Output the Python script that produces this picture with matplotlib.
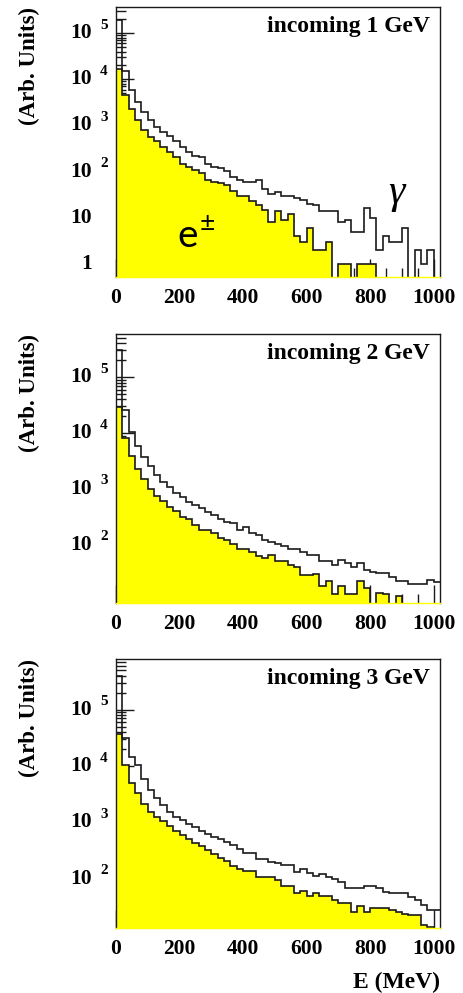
import numpy as np
import matplotlib
matplotlib.use("Agg")
import matplotlib.pyplot as plt
from matplotlib.ticker import MultipleLocator, LogLocator, NullFormatter
from matplotlib.transforms import offset_copy

# 51 bins of 20 MeV, 0 - 1020 MeV
edges = np.arange(0, 1021, 20)

gamma_1gev = [190000, 15000, 5900, 3300, 2000, 1300, 950, 740, 580, 450,
              350, 270, 220, 210, 150, 128, 118, 105, 78, 66,
              60, 60, 66, 42, 32, 37, 30, 30, 27, 24,
              20, 19, 14, 14, 14, 8, 9, 5, 5, 16,
              10, 2, 4, 3, 3, 6, 0, 2, 1, 2, 0]
ee_1gev = [17000, 4600, 2300, 1300, 800, 570, 450, 350, 260, 210,
           150, 128, 110, 92, 66, 60, 56, 52, 38, 30,
           30, 23, 19, 15, 8, 14, 9, 12, 4, 3,
           6, 2, 2, 3, 0, 1, 1, 0, 1, 1,
           1, 0, 0, 0, 0, 0, 0, 0, 0, 0, 0]

gamma_2gev = [300000, 26000, 10500, 5900, 3700, 2600, 1800, 1350, 1100, 860,
              720, 590, 510, 450, 390, 340, 295, 257, 247, 188,
              209, 164, 149, 121, 113, 103, 95, 83, 83, 73,
              66, 66, 51, 51, 44, 53, 47, 41, 48, 35,
              33, 32, 32, 27, 23, 23, 20, 20, 20, 24, 22]
ee_2gev = [29000, 8000, 3900, 2300, 1500, 1000, 760, 620, 480, 400,
           316, 290, 225, 183, 183, 165, 135, 120, 103, 83,
           83, 73, 63, 58, 66, 51, 51, 44, 41, 29,
           29, 30, 18, 23, 13, 18, 13, 13, 23, 17,
           0, 14, 13, 0, 12, 0, 0, 0, 0, 0, 0]

gamma_3gev = [400000, 32000, 14500, 10500, 5900, 3800, 2700, 2000, 1550, 1260,
              1100, 950, 820, 720, 620, 560, 500, 450, 400, 335,
              283, 283, 223, 223, 200, 190, 176, 176, 135, 148,
              129, 113, 122, 110, 99, 89, 69, 69, 69, 74,
              74, 69, 59, 57, 56, 56, 47, 43, 35, 28, 28]
ee_3gev = [37000, 10500, 5100, 3300, 2100, 1550, 1260, 1040, 850, 720,
           590, 515, 440, 385, 325, 280, 235, 205, 166, 148,
           136, 136, 110, 110, 110, 96, 75, 75, 57, 61,
           50, 56, 50, 50, 43, 37, 37, 26, 33, 26,
           30, 30, 30, 28, 26, 24, 23, 23, 15, 14, 0]

titles = ["incoming 1 GeV", "incoming 2 GeV", "incoming 3 GeV"]
gammas = [gamma_1gev, gamma_2gev, gamma_3gev]
electrons = [ee_1gev, ee_2gev, ee_3gev]
ylims = [(0.52, 3.7e5), (9.1, 5.9e5), (13.5, 7.9e5)]
boxes = [[0.25, 0.721, 0.6983, 0.272],
         [0.25, 0.3927, 0.6983, 0.2709],
         [0.25, 0.0655, 0.6983, 0.2709]]

plt.rcParams['font.family'] = 'Liberation Serif'
plt.rcParams['font.weight'] = 'bold'
plt.rcParams['axes.labelweight'] = 'bold'
plt.rcParams['axes.linewidth'] = 1.0

fig = plt.figure(figsize=(4.64, 9.93), dpi=100)

for i, (box, gam, ee, title, (y0, y1)) in enumerate(zip(boxes, gammas, electrons, titles, ylims)):
    ax = fig.add_axes(box)
    ax.set_yscale('log')
    ax.set_xlim(0, 1020)
    ax.set_ylim(y0, y1)
    floor = y0 / 10
    ee_v = np.maximum(np.array(ee, float), floor)
    gam_v = np.maximum(np.array(gam, float), floor)

    ax.stairs(ee_v, edges, baseline=floor, fill=True, color='#ffff00', lw=0, zorder=1)
    ax.stairs(ee_v, edges, baseline=None, color='#1a1a1a', lw=1.2, zorder=2)
    ax.stairs(gam_v, edges, baseline=None, color='#1a1a1a', lw=1.2, zorder=2)

    ax.xaxis.set_major_locator(MultipleLocator(200))
    ax.xaxis.set_minor_locator(MultipleLocator(50))
    ax.yaxis.set_major_locator(LogLocator(base=10, numticks=20))
    ax.yaxis.set_minor_locator(LogLocator(base=10, subs=np.arange(2, 10), numticks=20))
    ax.yaxis.set_major_formatter(NullFormatter())
    ax.yaxis.set_minor_formatter(NullFormatter())
    ax.tick_params(which='both', direction='in', top=False, right=False, color='#1a1a1a')
    ax.tick_params(axis='y', which='major', length=13, width=1)
    ax.tick_params(axis='y', which='minor', length=7, width=1)
    ax.tick_params(axis='x', which='major', length=13, width=1, labelsize=15.5, pad=8)
    ax.tick_params(axis='x', which='minor', length=6.5, width=1)
    ax.set_axisbelow(True)
    for s in ['left', 'top', 'right']:
        ax.spines[s].set_color('#1a1a1a')
    ax.spines['bottom'].set_color('#ffff00')

    # ROOT-style log labels: "10" with raised exponent
    base_tr = offset_copy(ax.get_yaxis_transform(), fig=fig, x=-24, y=0, units='dots')
    sup_tr = offset_copy(ax.get_yaxis_transform(), fig=fig, x=-16, y=8, units='dots')
    for v in ax.get_yticks():
        if v < y0 * 1.3 or v > y1:
            continue
        e = int(round(np.log10(v)))
        if e == 0:
            ax.text(0, v, "1", transform=base_tr, ha='right', va='center', fontsize=15.5)
        elif e == 1:
            ax.text(0, v, "10", transform=base_tr, ha='right', va='center', fontsize=15.5)
        else:
            ax.text(0, v, "10", transform=base_tr, ha='right', va='center', fontsize=15.5)
            ax.text(0, v, str(e), transform=sup_tr, ha='left', va='center', fontsize=11)

    ax.text(0.969, 0.926, title, transform=ax.transAxes, ha='right', va='center', fontsize=17)
    ax.set_ylabel("(Arb. Units)", fontsize=16.5, loc='top')
    ax.yaxis.set_label_coords(-0.235, 1.0)

    if i == 0:
        ax.text(192, 2.3, "e", fontfamily='Lato', fontweight='normal', fontsize=28,
                ha='left', va='baseline')
        ax.text(262, 7.5, "±", fontfamily='Lato', fontweight='normal', fontsize=19,
                ha='left', va='center')
        ax.text(882, 35, "γ", fontfamily='Liberation Serif', style='italic',
                fontweight='normal', fontsize=30, ha='center', va='center')
    if i == 2:
        ax.set_xlabel("E (MeV)", fontsize=17, loc='right')
        ax.xaxis.set_label_coords(1.0, -0.165)

fig.savefig("out.png", dpi=100)
